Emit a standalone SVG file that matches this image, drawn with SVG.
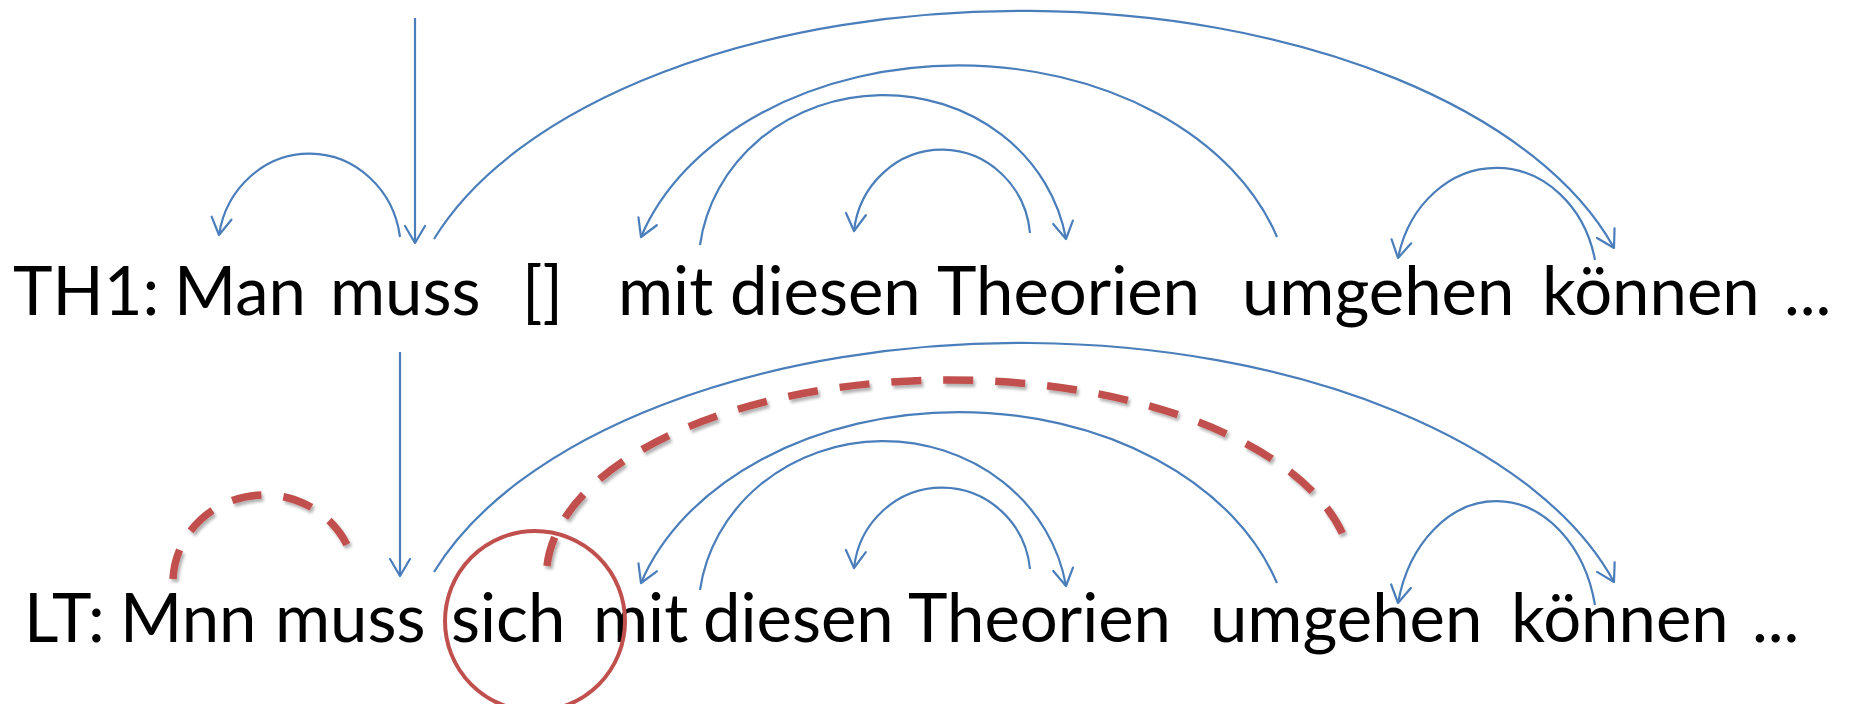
<svg xmlns="http://www.w3.org/2000/svg" width="1855" height="704" viewBox="0 0 1855 704">
  <style>
    .word { font-family: Lato, "Open Sans", "Liberation Sans", sans-serif; font-size: 67px; fill: #000; }
    .dep { fill: none; stroke: #4A7EBB; stroke-width: 2.2; marker-end: url(#ah); }
    .err { fill: none; stroke: #C0504D; stroke-width: 7.5; stroke-dasharray: 30 22; filter: url(#sh); }
    .ring { fill: none; stroke: #C0504D; stroke-width: 4; }
  </style>
  <defs>
    <marker id="ah" markerUnits="userSpaceOnUse" viewBox="-20 -12 24 24" markerWidth="24" markerHeight="24" refX="0" refY="0" orient="auto" overflow="visible">
      <path d="M -17 -10 L 0 0 L -17 10" fill="none" stroke="#4A7EBB" stroke-width="2.2" stroke-linejoin="round" stroke-linecap="round"/>
    </marker>
    <filter id="sh" x="-10%" y="-10%" width="125%" height="130%">
      <feDropShadow dx="2" dy="3" stdDeviation="1.5" flood-color="#000" flood-opacity="0.3"/>
    </filter>
  </defs>
  <rect width="1855" height="704" fill="#fff"/>

  <g id="th1-sentence">
    <text class="word" y="315">
      <tspan x="13">TH1:</tspan>
      <tspan x="174">Man</tspan>
      <tspan x="330">muss</tspan>
      <tspan x="522">[]</tspan>
      <tspan x="618">mit</tspan>
      <tspan x="730">diesen</tspan>
      <tspan x="937">Theorien</tspan>
      <tspan x="1242">umgehen</tspan>
      <tspan x="1542">können</tspan>
      <tspan x="1784">...</tspan>
    </text>
  </g>

  <g id="lt-sentence">
    <text class="word" y="642">
      <tspan x="24">LT:</tspan>
      <tspan x="120">Mnn</tspan>
      <tspan x="275">muss</tspan>
      <tspan x="451">sich</tspan>
      <tspan x="593">mit</tspan>
      <tspan x="703">diesen</tspan>
      <tspan x="908">Theorien</tspan>
      <tspan x="1210">umgehen</tspan>
      <tspan x="1511">können</tspan>
      <tspan x="1752">...</tspan>
    </text>
  </g>

  <g id="connectors">
    <!-- top sentence -->
    <path class="dep" d="M 400 237 A 91.5 96.5 0 0 0 219 235"/>
    <path class="dep" d="M 415 18 L 415 243"/>
    <path class="dep" d="M 434 239 A 618 331 0 0 1 1614 248"/>
    <path class="dep" d="M 1277 237 A 333 244 0 0 0 641 237"/>
    <path class="dep" d="M 700 245 A 185 172 0 0 1 1066 239"/>
    <path class="dep" d="M 1030 233 A 88.5 92 0 0 0 854 231"/>
    <path class="dep" d="M 1595 260 A 101 117 0 0 0 1398 258"/>
    <!-- bottom sentence -->
    <path class="dep" d="M 400 352 L 400 576"/>
    <path class="dep" d="M 434 572 A 618 333 0 0 1 1614 582"/>
    <path class="dep" d="M 1277 583 A 333 243 0 0 0 641 583"/>
    <path class="dep" d="M 700 590 A 185 172 0 0 1 1066 586"/>
    <path class="dep" d="M 1030 569 A 88.5 90.5 0 0 0 854 568"/>
    <path class="dep" d="M 1595 605 A 101 132 0 0 0 1398 603"/>
    <!-- error markings -->
    <path class="err" d="M 173 579 A 91.5 88 0 0 1 354 565"/>
    <path class="err" d="M 547 566 A 403 197 0 0 1 1348 548"/>
  </g>

  <g id="error-highlight">
    <circle class="ring" cx="535" cy="621" r="90"/>
  </g>
</svg>
